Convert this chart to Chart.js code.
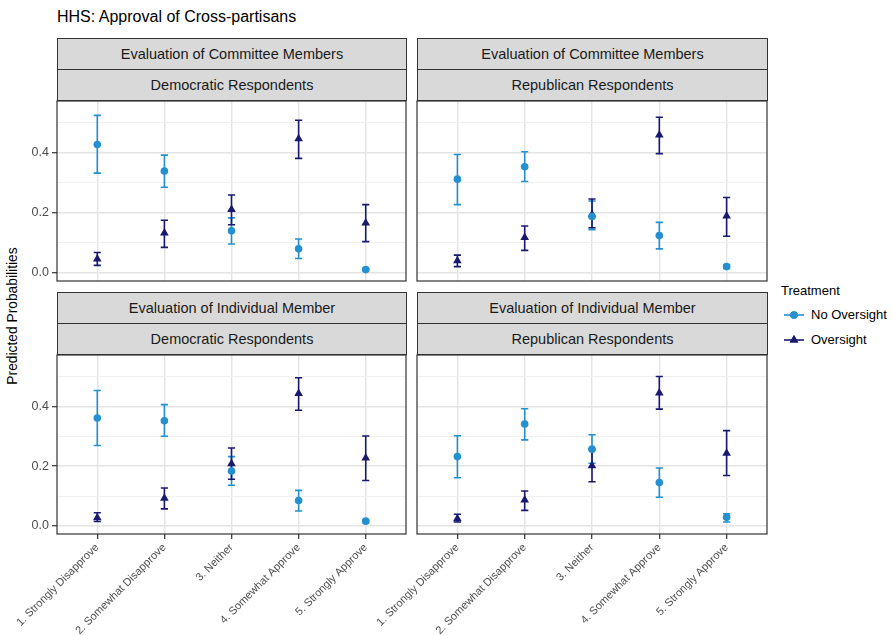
<!DOCTYPE html>
<html>
<head>
<meta charset="utf-8">
<script src="https://cdn.jsdelivr.net/npm/chart.js@4/dist/chart.umd.min.js"></script>
<style>
  html, body { margin: 0; padding: 0; background: #ffffff; }
  body { width: 895px; height: 635px; position: relative; overflow: hidden;
         font-family: "Liberation Sans", Arial, Helvetica, sans-serif; }
  .abs { position: absolute; }
  .title { left: 57px; top: 8px; font-size: 16px; color: #000; white-space: nowrap; }
  .strip { background: #d9d9d9; border: 1px solid #333333; box-sizing: border-box;
           font-size: 14.5px; color: #1a1a1a; text-align: center; white-space: nowrap; }
  .ylab { left: 12px; top: 316px; font-size: 13.8px; color: #000; white-space: nowrap;
          transform: translate(-50%, -50%) rotate(-90deg); }
  .legtitle { left: 781px; top: 283px; font-size: 13px; color: #000; }
  .legitem { left: 811px; font-size: 13px; color: #000; white-space: nowrap; }
</style>
</head>
<body>
<div class="abs title">HHS: Approval of Cross-partisans</div>
<div class="abs ylab">Predicted Probabilities</div>
<div id="stage"></div>

<div class="abs legtitle">Treatment</div>
<canvas id="key1" class="abs" width="24" height="14" style="left:782px;top:308px"></canvas>
<div class="abs legitem" style="top:307px">No Oversight</div>
<canvas id="key2" class="abs" width="24" height="14" style="left:782px;top:333px"></canvas>
<div class="abs legitem" style="top:332px">Oversight</div>

<script>
// Response categories on the x axis
const categories = ['1. Strongly Disapprove', '2. Somewhat Disapprove', '3. Neither',
                    '4. Somewhat Approve', '5. Strongly Approve'];
const treatments = ['No Oversight', 'Oversight'];
const facetTargets = ['Evaluation of Committee Members', 'Evaluation of Individual Member'];
const facetParties = ['Democratic Respondents', 'Republican Respondents'];
const yTicks = [0, 0.1, 0.2, 0.3, 0.4, 0.5];

// Committee members, Democratic respondents
const commDemNoEst = [0.427, 0.339, 0.140, 0.080, 0.011];
const commDemNoLo  = [0.332, 0.285, 0.096, 0.048, 0.008];
const commDemNoHi  = [0.524, 0.392, 0.183, 0.113, 0.015];
const commDemOvEst = [0.046, 0.133, 0.211, 0.446, 0.166];
const commDemOvLo  = [0.025, 0.085, 0.160, 0.381, 0.104];
const commDemOvHi  = [0.068, 0.175, 0.259, 0.508, 0.227];

// Committee members, Republican respondents
const commRepNoEst = [0.312, 0.353, 0.188, 0.124, 0.021];
const commRepNoLo  = [0.227, 0.304, 0.144, 0.080, 0.015];
const commRepNoHi  = [0.394, 0.403, 0.239, 0.168, 0.027];
const commRepOvEst = [0.040, 0.118, 0.194, 0.459, 0.189];
const commRepOvLo  = [0.021, 0.075, 0.150, 0.397, 0.122];
const commRepOvHi  = [0.059, 0.156, 0.246, 0.518, 0.251];

// Individual member, Democratic respondents
const indDemNoEst = [0.361, 0.352, 0.184, 0.085, 0.016];
const indDemNoLo  = [0.269, 0.300, 0.136, 0.050, 0.012];
const indDemNoHi  = [0.453, 0.406, 0.232, 0.119, 0.020];
const indDemOvEst = [0.027, 0.093, 0.208, 0.443, 0.227];
const indDemOvLo  = [0.015, 0.057, 0.156, 0.387, 0.152];
const indDemOvHi  = [0.044, 0.127, 0.261, 0.496, 0.301];

// Individual member, Republican respondents
const indRepNoEst = [0.232, 0.341, 0.257, 0.145, 0.029];
const indRepNoLo  = [0.161, 0.288, 0.210, 0.096, 0.013];
const indRepNoHi  = [0.302, 0.392, 0.305, 0.194, 0.041];
const indRepOvEst = [0.024, 0.087, 0.201, 0.445, 0.243];
const indRepOvLo  = [0.013, 0.052, 0.148, 0.391, 0.169];
const indRepOvHi  = [0.039, 0.117, 0.257, 0.500, 0.319];

const colNo = '#2490cf';
const colOv = '#191970';
const FONT = '"Liberation Sans", Arial, Helvetica, sans-serif';

function points(est, lo, hi) {
  return est.map((v, i) => ({ x: i + 1, y: v, lo: lo[i], hi: hi[i] }));
}

// Vertical interval with caps, drawn under the point markers
const errorBars = {
  id: 'errorBars',
  beforeDatasetsDraw(chart) {
    const { ctx, scales: { x, y } } = chart;
    chart.data.datasets.forEach(ds => {
      ctx.save();
      ctx.strokeStyle = ds.borderColor;
      ctx.lineWidth = 1.6;
      ctx.lineCap = 'butt';
      ds.data.forEach(p => {
        const px = x.getPixelForValue(p.x);
        const top = y.getPixelForValue(p.hi);
        const bot = y.getPixelForValue(p.lo);
        const w = 3.6;
        ctx.beginPath();
        ctx.moveTo(px, top); ctx.lineTo(px, bot);
        ctx.moveTo(px - w, top); ctx.lineTo(px + w, top);
        ctx.moveTo(px - w, bot); ctx.lineTo(px + w, bot);
        ctx.stroke();
      });
      ctx.restore();
    });
  }
};

// Panel frame on top of everything
const panelBorder = {
  id: 'panelBorder',
  afterDraw(chart) {
    const { ctx, chartArea: a } = chart;
    ctx.save();
    ctx.strokeStyle = '#333333';
    ctx.lineWidth = 1.2;
    ctx.strokeRect(a.left, a.top, a.right - a.left, a.bottom - a.top);
    ctx.restore();
  }
};

// Panel geometry: plot-area rectangles
const colLeft = [57, 417];
const colRight = [406, 767];
const stripTop = [38, 292];
const plotTop = [101, 355];
const plotBottom = [281, 534];
const axisGap = 57;

const stage = document.getElementById('stage');

function makePanel(row, col, noEst, noLo, noHi, ovEst, ovLo, ovHi) {
  // two strips above the panel
  [facetTargets[row], facetParties[col]].forEach((txt, k) => {
    const s = document.createElement('div');
    s.className = 'abs strip';
    s.textContent = txt;
    const top = stripTop[row] + k * 31;
    const h = (k === 0 ? 32 : plotTop[row] - top);
    s.style.cssText = `left:${colLeft[col]}px;top:${top}px;width:${colRight[col] - colLeft[col] + 1}px;height:${h}px;line-height:${h - 2}px;`;
    stage.appendChild(s);
  });

  const canvas = document.createElement('canvas');
  const left = colLeft[col] - axisGap;
  const top = plotTop[row] - 1;
  const width = colRight[col] - left + 1;
  const height = row === 1 ? 635 - top : plotBottom[row] - top + 1;
  canvas.width = width; canvas.height = height;
  canvas.className = 'abs';
  canvas.style.left = left + 'px';
  canvas.style.top = top + 'px';
  stage.appendChild(canvas);

  const xAxisHeight = row === 1 ? 635 - plotBottom[row] : 1;

  new Chart(canvas, {
    type: 'scatter',
    data: {
      datasets: [
        { label: treatments[0], data: points(noEst, noLo, noHi),
          backgroundColor: colNo, borderColor: colNo, pointStyle: 'circle',
          pointRadius: 3.8, pointBorderWidth: 0, clip: false },
        { label: treatments[1], data: points(ovEst, ovLo, ovHi),
          backgroundColor: colOv, borderColor: colOv, pointStyle: 'triangle',
          pointRadius: 5, pointBorderWidth: 0, clip: false }
      ]
    },
    options: {
      responsive: false,
      animation: false,
      events: [],
      layout: { padding: { top: 1, right: 1, left: 0, bottom: 0 }, autoPadding: false },
      plugins: { legend: { display: false }, tooltip: { enabled: false } },
      scales: {
        x: {
          type: 'linear', min: 0.4, max: 5.6,
          afterBuildTicks(scale) { scale.ticks = categories.map((c, i) => ({ value: i + 1 })); },
          afterFit(scale) {
            scale.height = xAxisHeight;
            scale.paddingLeft = 0; scale.paddingRight = 0;
            scale.paddingTop = 0; scale.paddingBottom = 0;
          },
          border: { display: false },
          grid: { color: '#e4e4e4', lineWidth: 1.4, drawTicks: row === 1,
                  tickLength: 5, tickColor: '#333333', tickWidth: 1.2 },
          ticks: {
            display: row === 1, autoSkip: false, maxRotation: 45, minRotation: 45,
            padding: 2, color: '#4d4d4d', font: { family: FONT, size: 11 },
            callback: v => categories[v - 1]
          }
        },
        y: {
          type: 'linear', min: -0.027, max: 0.572,
          afterBuildTicks(scale) { scale.ticks = yTicks.map(v => ({ value: v })); },
          afterFit(scale) {
            scale.width = axisGap;
            scale.paddingLeft = 0; scale.paddingRight = 0;
            scale.paddingTop = 0; scale.paddingBottom = 0;
          },
          border: { display: false },
          grid: {
            color: c => (Math.round(c.tick.value * 10) % 2 === 0 ? '#e4e4e4' : '#f0f0f0'),
            lineWidth: c => (Math.round(c.tick.value * 10) % 2 === 0 ? 1.4 : 1),
            drawTicks: col === 0, tickLength: 5, tickWidth: 1.2,
            tickColor: c => (Math.round(c.tick.value * 10) % 2 === 0 ? '#333333' : 'rgba(0,0,0,0)')
          },
          ticks: {
            display: col === 0, padding: 3, color: '#4d4d4d',
            font: { family: FONT, size: 12.5 },
            callback: v => (Math.round(v * 10) % 2 === 0 ? v.toFixed(1) : '')
          }
        }
      }
    },
    plugins: [errorBars, panelBorder]
  });
}

makePanel(0, 0, commDemNoEst, commDemNoLo, commDemNoHi, commDemOvEst, commDemOvLo, commDemOvHi);
makePanel(0, 1, commRepNoEst, commRepNoLo, commRepNoHi, commRepOvEst, commRepOvLo, commRepOvHi);
makePanel(1, 0, indDemNoEst, indDemNoLo, indDemNoHi, indDemOvEst, indDemOvLo, indDemOvHi);
makePanel(1, 1, indRepNoEst, indRepNoLo, indRepNoHi, indRepOvEst, indRepOvLo, indRepOvHi);

// Legend keys: line through the marker
function drawKey(id, color, style) {
  const c = document.getElementById(id).getContext('2d');
  c.strokeStyle = color; c.fillStyle = color; c.lineWidth = 1.6;
  c.beginPath(); c.moveTo(2, 7); c.lineTo(22, 7); c.stroke();
  Chart.helpers.drawPoint(c, { pointStyle: style, radius: style === 'triangle' ? 5 : 3.8, borderWidth: 0 }, 12, 7);
  c.fill();
}
drawKey('key1', colNo, 'circle');
drawKey('key2', colOv, 'triangle');
</script>
</body>
</html>
